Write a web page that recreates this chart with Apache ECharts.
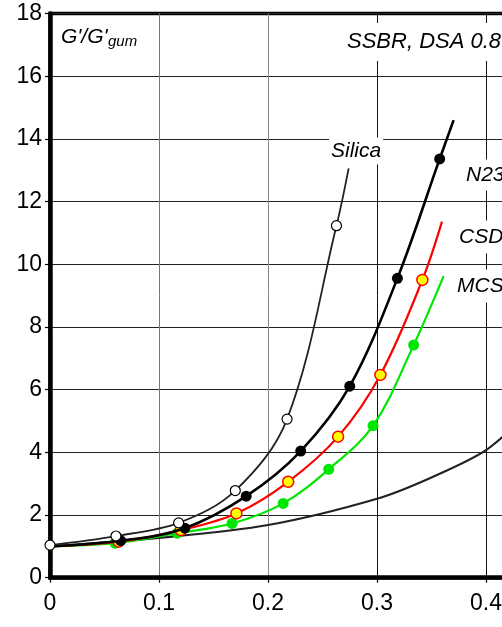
<!DOCTYPE html>
<html><head><meta charset="utf-8">
<script src="https://cdn.jsdelivr.net/npm/echarts@6/dist/echarts.min.js"></script>
<style>html,body{margin:0;padding:0;background:#fff}#c{width:502px;height:627px}</style>
</head><body><div id="c"></div>
<script>
// Data (x = filler volume fraction, y = G'/G'gum)
const silicaX = [0, 0.0605, 0.118, 0.170, 0.2175, 0.2628, 0.274];
const silicaY = [1.04, 1.33, 1.75, 2.78, 5.06, 11.23, 13.06];
const silicaMarked = [true, true, true, true, true, true, false];

const n234X = [0, 0.0648, 0.1237, 0.180, 0.230, 0.275, 0.3187, 0.3575, 0.3703];
const n234Y = [1.0, 1.18, 1.58, 2.60, 4.04, 6.11, 9.55, 13.36, 14.6];
const n234Marked = [false, true, true, true, true, true, true, true, false];

const csdX = [0, 0.063, 0.120, 0.171, 0.2185, 0.2643, 0.3031, 0.3416, 0.3596];
const csdY = [1.0, 1.15, 1.52, 2.05, 3.06, 4.50, 6.47, 9.50, 11.36];
const csdMarked = [false, true, true, true, true, true, true, true, false];

const mcsX = [0, 0.0596, 0.1167, 0.167, 0.2139, 0.2557, 0.2964, 0.3336, 0.3611];
const mcsY = [1.0, 1.10, 1.42, 1.73, 2.37, 3.46, 4.85, 7.42, 9.62];
const mcsMarked = [false, true, true, true, true, true, true, true, false];

const gumX = [0, 0.1, 0.2, 0.3, 0.35, 0.4, 0.44];
const gumY = [1.0, 1.27, 1.68, 2.52, 3.2, 4.07, 5.3];

const xTicks = [0, 0.1, 0.2, 0.3, 0.4, 0.5];
const yTicks = [0, 2, 4, 6, 8, 10, 12, 14, 16, 18];

const labels = {
  title: "G'/G'", titleSub: "gum",
  system: "SSBR, DSA 0.8",
  silica: "Silica", n234: "N234", csd: "CSDPF", mcs: "MCS"
};

function pts(xs, ys, marked) {
  return xs.map((x, i) => {
    const d = { value: [x, ys[i]] };
    if (marked && !marked[i]) d.symbol = 'none';
    return d;
  });
}

const FONT = 'Liberation Sans, Arial, sans-serif';
const chart = echarts.init(document.getElementById('c'), null, { renderer: 'canvas' });
chart.setOption({
  animation: false,
  backgroundColor: '#fff',
  grid: { left: 50, top: 13.5, width: 545, height: 564.2, show: true, borderColor: '#000', borderWidth: 3.5,
          containLabel: false, outerBoundsMode: 'none' },
  xAxis: {
    type: 'value', min: xTicks[0], max: xTicks[xTicks.length - 1], interval: 0.1,
    axisLine: { show: true, onZero: false, lineStyle: { color: '#000', width: 4.5 } },
    axisTick: { show: true, inside: false, length: 5, lineStyle: { color: '#000', width: 1.2 } },
    axisLabel: { color: '#000', fontSize: 23, fontFamily: FONT, margin: 14,
      formatter: v => v === 0 ? '0' : v.toFixed(1) },
    splitLine: { show: true, lineStyle: { color: ['#000', '#777', '#888', '#111', '#111', '#111'], width: 1 } }
  },
  yAxis: {
    type: 'value', min: yTicks[0], max: yTicks[yTicks.length - 1], interval: 2,
    axisLine: { show: true, onZero: false, lineStyle: { color: '#000', width: 4.5 } },
    axisTick: { show: true, inside: false, length: 5, lineStyle: { color: '#000', width: 1.2 } },
    axisLabel: { color: '#000', fontSize: 23, fontFamily: FONT, margin: 8 },
    splitLine: { show: true, lineStyle: { color: '#222', width: 1 } }
  },
  series: [
    { name: 'gum', type: 'line', smooth: 0.3, symbol: 'none', z: 2,
      lineStyle: { color: '#222', width: 2.2 }, data: pts(gumX, gumY) },
    { name: 'MCS', type: 'line', smooth: 0.35, symbol: 'circle', symbolSize: 11, z: 3,
      lineStyle: { color: '#00e600', width: 2.2 },
      itemStyle: { color: '#00e600', borderWidth: 0 }, data: pts(mcsX, mcsY, mcsMarked) },
    { name: 'CSDPF', type: 'line', smooth: 0.35, symbol: 'circle', symbolSize: 11, z: 4,
      lineStyle: { color: '#ff0000', width: 2.2 },
      itemStyle: { color: '#ffff00', borderColor: '#ff0000', borderWidth: 1.5 }, data: pts(csdX, csdY, csdMarked) },
    { name: 'N234', type: 'line', smooth: 0.35, symbol: 'circle', symbolSize: 11, z: 5,
      lineStyle: { color: '#000', width: 2.6 },
      itemStyle: { color: '#000', borderWidth: 0 }, data: pts(n234X, n234Y, n234Marked) },
    { name: 'Silica', type: 'line', smooth: 0.35, symbol: 'circle', symbolSize: 10, z: 6,
      lineStyle: { color: '#222', width: 1.8 },
      itemStyle: { color: '#fff', borderColor: '#000', borderWidth: 1.2 }, data: pts(silicaX, silicaY, silicaMarked) }
  ],
  graphic: [
    { type: 'text', z: 10, style: { text: labels.title, x: 61, y: 37, verticalAlign: 'middle', font: 'italic 21px ' + FONT, fill: '#000' } },
    { type: 'text', z: 10, style: { text: labels.titleSub, x: 108, y: 42, verticalAlign: 'middle', font: 'italic 15px ' + FONT, fill: '#000' } },
    { type: 'text', z: 10, style: { text: labels.system, x: 343, y: 42, verticalAlign: 'middle', font: 'italic 22px ' + FONT, fill: '#000', backgroundColor: '#fff', padding: [8, 4, 8, 4] } },
    { type: 'text', z: 10, style: { text: labels.silica, x: 329, y: 151, verticalAlign: 'middle', font: 'italic 21px ' + FONT, fill: '#000', backgroundColor: '#fff', padding: [0, 2, 6, 2] } },
    { type: 'text', z: 10, style: { text: labels.n234, x: 462, y: 175, verticalAlign: 'middle', font: 'italic 21px ' + FONT, fill: '#000', backgroundColor: '#fff', padding: [6, 4, 4, 4] } },
    { type: 'text', z: 10, style: { text: labels.csd, x: 455, y: 237, verticalAlign: 'middle', font: 'italic 21px ' + FONT, fill: '#000', backgroundColor: '#fff', padding: [6, 4, 6, 4] } },
    { type: 'text', z: 10, style: { text: labels.mcs, x: 453, y: 286, verticalAlign: 'middle', font: 'italic 21px ' + FONT, fill: '#000', backgroundColor: '#fff', padding: [6, 4, 6, 4] } }
  ]
});
</script>
</body></html>
